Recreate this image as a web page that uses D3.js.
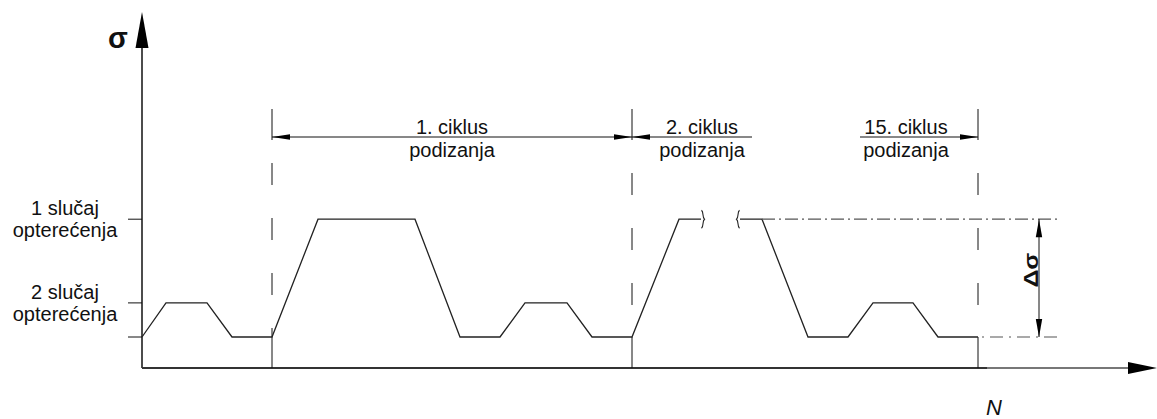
<!DOCTYPE html>
<html>
<head>
<meta charset="utf-8">
<script src="https://cdn.jsdelivr.net/npm/d3@7"></script>
<style>
  body { margin: 0; background: #fff; }
  text { font-family: "Liberation Sans", Arial, sans-serif; fill: #111; }
</style>
</head>
<body>
<script>
// stress levels (arbitrary units): base, 2 slučaj, 1 slučaj
var sigmaLevels = [1.0, 2.1, 4.8];
var levelLabels = [["1 slučaj", "opterećenja"], ["2 slučaj", "opterećenja"]];

// load history, N in arbitrary units; split at the break symbol
var historyN1 = [0, 2.4, 6.5, 9, 13, 17.6, 27.3, 31.8, 35.8, 38.3, 42.5, 45, 49, 53.7, 55.9];
var historyS1 = [1.0, 2.1, 2.1, 1.0, 1.0, 4.8, 4.8, 1.0, 1.0, 2.1, 2.1, 1.0, 1.0, 4.8, 4.8];
var historyN2 = [59.8, 62, 66.6, 70.6, 73.1, 77.1, 79.6, 83.6];
var historyS2 = [4.8, 4.8, 1.0, 1.0, 2.1, 2.1, 1.0, 1.0];

// cycle boundaries and dimension labels
var cycleBounds = [13, 49, 83.6];
var cycleLabels = ["1. ciklus", "2. ciklus", "15. ciklus"];
var cycleSub = "podizanja";
var dimStart = [13, 49, 71.8];
var dimEnd = [49, 61, 83.6];
var dimArrowL = [true, true, false];
var dimArrowR = [true, false, true];
var labelN = [31, 56, 76.4];

var W = 1157, H = 419;
var svg = d3.select("body").append("svg")
    .attr("width", W)
    .attr("height", H);

var x = d3.scaleLinear().domain([0, 100]).range([142, 1142]);
var y = d3.scaleLinear().domain([0, 10]).range([368, 58]);

function arrowHead(tx, ty, dx, dy, len, hw) {
    // triangle with tip at (tx,ty) pointing along (dx,dy)
    var bx = tx - dx * len, by = ty - dy * len;
    var px = -dy * hw, py = dx * hw;
    return "M" + tx + "," + ty + "L" + (bx + px) + "," + (by + py) +
        "L" + (bx - px) + "," + (by - py) + "Z";
}

// axes
svg.append("line")
    .attr("x1", x(0)).attr("x2", x(0))
    .attr("y1", y(0)).attr("y2", 40)
    .attr("stroke", "#111").attr("stroke-width", 1.5);
svg.append("path")
    .attr("d", arrowHead(x(0), 12, 0, -1, 36, 6.5))
    .attr("fill", "#000");
svg.append("line")
    .attr("x1", x(0)).attr("x2", x(84.5))
    .attr("y1", y(0)).attr("y2", y(0))
    .attr("stroke", "#333").attr("stroke-width", 2);
svg.append("line")
    .attr("x1", x(84.5)).attr("x2", 1132)
    .attr("y1", y(0)).attr("y2", y(0))
    .attr("stroke", "#777").attr("stroke-width", 2);
svg.append("path")
    .attr("d", arrowHead(1157, y(0), 1, 0, 29, 6))
    .attr("fill", "#000");

svg.append("text")
    .attr("x", 118).attr("y", 48)
    .attr("text-anchor", "middle")
    .style("font-size", "29px").style("font-weight", "bold")
    .text("σ");
svg.append("text")
    .attr("x", 994).attr("y", 415)
    .attr("text-anchor", "middle")
    .style("font-size", "22px").style("font-style", "italic")
    .text("N");

// level ticks on the sigma axis
svg.selectAll(".tick")
    .data(sigmaLevels)
    .enter().append("line")
    .attr("x1", x(0) - 14).attr("x2", x(0))
    .attr("y1", function(d) { return y(d); })
    .attr("y2", function(d) { return y(d); })
    .attr("stroke", "#111").attr("stroke-width", 1);

// level labels (1 slučaj at top level, 2 slučaj at middle level)
var labelLevels = [sigmaLevels[2], sigmaLevels[1]];
levelLabels.forEach(function(lines, i) {
    var t = svg.append("text")
        .attr("text-anchor", "middle")
        .style("font-size", "20px");
    t.append("tspan").attr("x", 65).attr("y", y(labelLevels[i]) - 4).text(lines[0]);
    t.append("tspan").attr("x", 65).attr("y", y(labelLevels[i]) + 18).text(lines[1]);
});

// cycle boundary lines: solid extension on top, dashed middle, solid to axis
cycleBounds.forEach(function(n, i) {
    var xx = x(n);
    svg.append("line")
        .attr("x1", xx).attr("x2", xx).attr("y1", 109).attr("y2", 140)
        .attr("stroke", "#111").attr("stroke-width", 1);
    svg.append("line")
        .attr("x1", xx).attr("x2", xx)
        .attr("y1", i == 0 ? 163 : 173).attr("y2", y(sigmaLevels[0]))
        .attr("stroke", "#111").attr("stroke-width", 1)
        .attr("stroke-dasharray", "22,33");
    svg.append("line")
        .attr("x1", xx).attr("x2", xx)
        .attr("y1", y(sigmaLevels[0])).attr("y2", y(0))
        .attr("stroke", "#111").attr("stroke-width", 1);
});

// dimension lines for the cycles
var dimY = 137;
dimStart.forEach(function(s, i) {
    svg.append("line")
        .attr("x1", x(s)).attr("x2", x(dimEnd[i]))
        .attr("y1", dimY).attr("y2", dimY)
        .attr("stroke", "#111").attr("stroke-width", 1);
    if (dimArrowL[i]) {
        svg.append("path").attr("d", arrowHead(x(s), dimY, -1, 0, 18, 2.8)).attr("fill", "#000");
    }
    if (dimArrowR[i]) {
        svg.append("path").attr("d", arrowHead(x(dimEnd[i]), dimY, 1, 0, 18, 2.8)).attr("fill", "#000");
    }
    svg.append("text")
        .attr("x", x(labelN[i])).attr("y", dimY - 3)
        .attr("text-anchor", "middle")
        .style("font-size", "20px")
        .text(cycleLabels[i]);
    svg.append("text")
        .attr("x", x(labelN[i])).attr("y", dimY + 20)
        .attr("text-anchor", "middle")
        .style("font-size", "20px")
        .text(cycleSub);
});

// load history
var line = d3.line()
    .x(function(d) { return x(d[0]); })
    .y(function(d) { return y(d[1]); });
[d3.zip(historyN1, historyS1), d3.zip(historyN2, historyS2)].forEach(function(seg) {
    svg.append("path")
        .attr("d", line(seg))
        .attr("fill", "none")
        .attr("stroke", "#222").attr("stroke-width", 1.3);
});

// break symbols
var brkY = y(sigmaLevels[2]);
var bL = x(historyN1[historyN1.length - 1]);
var bR = x(historyN2[0]);
function brace(bx, s) {
    return "M" + (bx + s * 0.5) + "," + (brkY - 9) +
        "C" + (bx + s * 3) + "," + (brkY - 7) + " " + (bx + s * 1) + "," + (brkY - 2) + " " + (bx + s * 3.5) + "," + brkY +
        "C" + (bx + s * 1) + "," + (brkY + 2) + " " + (bx + s * 3) + "," + (brkY + 7) + " " + (bx + s * 0.5) + "," + (brkY + 9);
}
svg.append("path").attr("d", brace(bL, 1))
    .attr("fill", "none").attr("stroke", "#222").attr("stroke-width", 1.1);
svg.append("path").attr("d", brace(bR, -1))
    .attr("fill", "none").attr("stroke", "#222").attr("stroke-width", 1.1);

// dash-dot reference lines for the stress range
var dsEnd = 91.5;
svg.append("line")
    .attr("x1", x(62)).attr("x2", x(dsEnd))
    .attr("y1", y(sigmaLevels[2])).attr("y2", y(sigmaLevels[2]))
    .attr("stroke", "#555").attr("stroke-width", 1.2)
    .attr("stroke-dasharray", "13,4,2,4");
svg.append("line")
    .attr("x1", x(83.6) + 4).attr("x2", x(dsEnd))
    .attr("y1", y(sigmaLevels[0])).attr("y2", y(sigmaLevels[0]))
    .attr("stroke", "#555").attr("stroke-width", 1.2)
    .attr("stroke-dasharray", "2,6,13,6");

// delta sigma dimension
var dx = x(89.7);
svg.append("line")
    .attr("x1", dx).attr("x2", dx)
    .attr("y1", y(sigmaLevels[2])).attr("y2", y(sigmaLevels[0]))
    .attr("stroke", "#111").attr("stroke-width", 1);
svg.append("path").attr("d", arrowHead(dx, y(sigmaLevels[2]), 0, -1, 18, 3.2)).attr("fill", "#000");
svg.append("path").attr("d", arrowHead(dx, y(sigmaLevels[0]), 0, 1, 18, 3.2)).attr("fill", "#000");
var dsMid = (y(sigmaLevels[2]) + y(sigmaLevels[0])) / 2;
svg.append("text")
    .attr("transform", "translate(" + (dx - 1) + "," + (dsMid - 8) + ") rotate(-90)")
    .attr("text-anchor", "middle")
    .attr("textLength", 35).attr("lengthAdjust", "spacingAndGlyphs")
    .style("font-size", "21px").style("font-weight", "bold")
    .text("Δσ");
</script>
</body>
</html>
